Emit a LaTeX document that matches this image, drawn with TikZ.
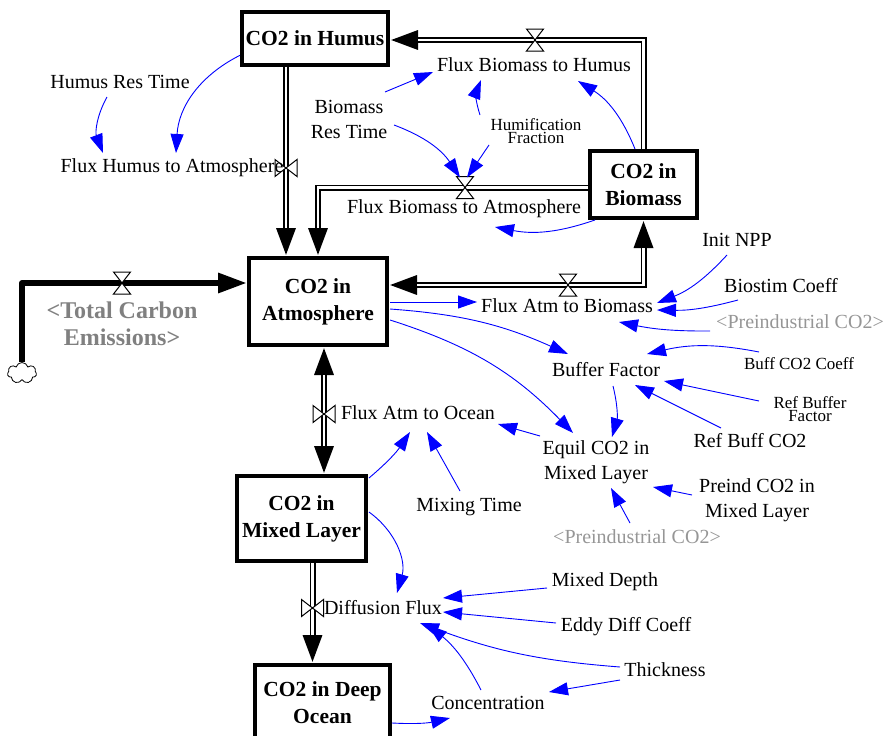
\documentclass[tikz,border=0pt]{standalone}
\usepackage{fontspec}
\setmainfont{Liberation Serif}
\usetikzlibrary{arrows.meta,shapes.symbols}
\definecolor{ghostA}{RGB}{128,128,128}
\definecolor{ghostB}{RGB}{150,150,150}
\definecolor{linkblue}{RGB}{0,0,255}
\begin{document}
\begin{tikzpicture}[x=1pt,y=1pt,
  aux/.style={inner sep=0pt, align=center, font=\fontsize{20}{25}\selectfont},
  sm/.style={inner sep=0pt, align=center, font=\fontsize{17}{13}\selectfont},
  ghost/.style={aux, text=ghostB},
  stock/.style={draw, line width=4pt, fill=white, inner sep=0pt, align=center, font=\bfseries\fontsize{21.5}{27}\selectfont},
  link/.style={linkblue, line width=0.9pt, -{Triangle[length=19pt,width=13pt]}},
  pipeA/.style={draw=black, line width=6pt, line join=miter, -{Triangle[length=28pt,width=18pt]}, postaction={draw=white, line width=2.6pt, -, shorten >=28pt}},
  pipeB/.style={draw=black, line width=6pt, line join=miter, {Triangle[length=28pt,width=18pt]}-{Triangle[length=28pt,width=18pt]}, postaction={draw=white, line width=2.6pt, -, shorten >=28pt, shorten <=28pt}},
  emis/.style={draw=black, line width=6pt, line join=round, -{Triangle[length=29pt,width=19pt]}},
  hv/.pic={\filldraw[fill=white,draw=black,line width=1pt] (-8.5,11) -- (8.5,11) -- (0,0) -- cycle (-8.5,-11) -- (8.5,-11) -- (0,0) -- cycle;},
  vv/.pic={\filldraw[fill=white,draw=black,line width=1pt] (-11,8.5) -- (-11,-8.5) -- (0,0) -- cycle (11,8.5) -- (11,-8.5) -- (0,0) -- cycle;}
]
\useasboundingbox (0,0) rectangle (887,-736);
\clip (0,0) rectangle (887,-736);

% stocks
\node[stock, minimum width=146pt, minimum height=53.5pt] (hum) at (315,-38.3) {CO2 in Humus};
\node[stock, minimum width=107pt, minimum height=67pt] (bio) at (643.5,-184.5) {CO2 in\\Biomass};
\node[stock, minimum width=138pt, minimum height=87pt] (atm) at (318,-301.5) {CO2 in\\Atmosphere};
\node[stock, minimum width=129pt, minimum height=85pt] (mix) at (301.5,-518.5) {CO2 in\\Mixed Layer};
\node[stock, minimum width=135pt, minimum height=76pt] (deep) at (322.5,-703) {CO2 in Deep\\Ocean};

% cloud source
\node[cloud, draw, fill=white, line width=0.8pt, cloud puffs=7, aspect=1.4, minimum width=29pt, minimum height=21pt, inner sep=0pt] (cl) at (22,-373) {};

% valve positions
\coordinate (vha) at (286,-168);
\coordinate (vba) at (465,-187.5);
\coordinate (vbh) at (535,-40);
\coordinate (vab) at (568,-285);
\coordinate (vem) at (122,-283);
\coordinate (vao) at (324,-414);
\coordinate (vdf) at (312.5,-608);

% pipes
\draw[pipeA] (vha |- hum.south) -- (vha |- atm.north);
\draw[pipeA] (bio.west |- vba) -| (atm.north);
\draw[pipeA] (bio.north) |- (hum.east |- vbh);
\draw[pipeB] (atm.east |- vab) -| (bio.south);
\draw[pipeB] (vao |- atm.south) -- (vao |- mix.north);
\draw[pipeA] (vdf |- mix.south) -- (vdf |- deep.north);
\draw[emis] (cl.north) |- (atm.west |- vem);

% valves
\pic at (vha) {vv};
\pic at (vba) {hv};
\pic at (vbh) {hv};
\pic at (vab) {hv};
\pic at (vem) {hv};
\pic at (vao) {vv};
\pic at (vdf) {vv};

% auxiliaries
\node[aux] (hrt) at (120,-82) {Humus Res Time};
\node[aux] (fha) at (172,-168) {Flux Humus to Atmosphere};
\node[aux] (brt) at (349,-119) {Biomass\\Res Time};
\node[aux] (fbh) at (534,-65) {Flux Biomass to Humus};
\node[sm] (hf) at (536,-131) {Humification\\Fraction};
\node[aux] (fba) at (464,-209) {Flux Biomass to Atmosphere};
\node[aux] (npp) at (737,-240) {Init NPP};
\node[aux] (bsc) at (781,-286) {Biostim Coeff};
\node[ghost] (pre1) at (800,-322) {<Preindustrial CO2>};
\node[aux] (fab) at (567,-306) {Flux Atm to Biomass};
\node[aux] (bf) at (606,-370) {Buffer Factor};
\node[sm] (bcc) at (799,-364) {Buff CO2 Coeff};
\node[sm] (rbf) at (810,-409) {Ref Buffer\\Factor};
\node[aux] (rbc) at (750,-441) {Ref Buff CO2};
\node[aux] (eq) at (596,-462) {Equil CO2 in\\Mixed Layer};
\node[aux] (fao) at (418,-413) {Flux Atm to Ocean};
\node[aux] (mixt) at (469,-507) {Mixing Time};
\node[aux] (pmx) at (757,-500) {Preind CO2 in\\Mixed Layer};
\node[ghost] (pre2) at (637,-537) {<Preindustrial CO2>};
\node[aux] (mxd) at (605,-582) {Mixed Depth};
\node[aux] (edc) at (626,-627) {Eddy Diff Coeff};
\node[aux] (thk) at (665,-670) {Thickness};
\node[aux] (conc) at (488,-703) {Concentration};
\node[aux] (df) at (383,-608) {Diffusion Flux};
\node[inner sep=0pt, align=center, font=\bfseries\fontsize{24}{27}\selectfont, text=ghostA] (tce) at (122,-323.5) {<Total Carbon\\Emissions>};

% links
\draw[link] ([shift={(-13,-15)}]hrt.center) to[bend right=25] ([shift={(-69,15)}]fha.center);
\draw[link] ([shift={(-75,-17)}]hum.center) to[bend right=30] ([shift={(4,15)}]fha.center);
\draw[link] ([shift={(36,27)}]brt.center) -- ([shift={(-101,-7)}]fbh.center);
\draw[link] ([shift={(45,-6)}]brt.center) to[bend left=18] ([shift={(-5,10)}]vba);
\draw[link] ([shift={(-56,16)}]hf.center) to[bend left=20] ([shift={(-53,-15)}]fbh.center);
\draw[link] ([shift={(-47,-14)}]hf.center) -- ([shift={(2,10)}]vba);
\draw[link] ([shift={(-8.5,35.5)}]bio.center) to[bend right=18] ([shift={(44,-16)}]fbh.center);
\draw[link] ([shift={(-48.5,-35.5)}]bio.center) to[bend left=15] ([shift={(31,-18)}]fba.center);
\draw[link] ([shift={(72,-0.5)}]atm.center) -- ([shift={(-90,4)}]fab.center);
\draw[link] ([shift={(72,-7.5)}]atm.center) to[bend left=10] ([shift={(-38,16)}]bf.center);
\draw[link] ([shift={(72,-18.5)}]atm.center) to[bend left=14] ([shift={(-23,29)}]eq.center);
\draw[link] ([shift={(-10,-15)}]npp.center) to[bend left=13] ([shift={(90,3)}]fab.center);
\draw[link] ([shift={(-43,-14)}]bsc.center) to[bend left=8] ([shift={(90,-4)}]fab.center);
\draw[link] ([shift={(-90,-9)}]pre1.center) to[bend left=6] ([shift={(52,-16)}]fab.center);
\draw[link] ([shift={(-40,12)}]bcc.center) to[bend right=12] ([shift={(41,16)}]bf.center);
\draw[link] ([shift={(-51,8)}]rbf.center) -- ([shift={(58,-11)}]bf.center);
\draw[link] ([shift={(-29,13)}]rbc.center) -- ([shift={(29,-15)}]bf.center);
\draw[link] ([shift={(7,-16)}]bf.center) to[bend left=15] ([shift={(16,25)}]eq.center);
\draw[link] ([shift={(-56,26)}]eq.center) -- ([shift={(80,-11)}]fao.center);
\draw[link] ([shift={(-65,5)}]pmx.center) -- ([shift={(57,-25)}]eq.center);
\draw[link] ([shift={(-7,14)}]pre2.center) -- ([shift={(15,-26)}]eq.center);
\draw[link] ([shift={(-9,16)}]mixt.center) -- ([shift={(9,-19)}]fao.center);
\draw[link] ([shift={(67.5,40.5)}]mix.center) to[bend right=8] ([shift={(-8,-19)}]fao.center);
\draw[link] ([shift={(67.5,6.5)}]mix.center) to[bend left=35] ([shift={(14,15)}]df.center);
\draw[link] ([shift={(-58,-6)}]mxd.center) -- ([shift={(60,10)}]df.center);
\draw[link] ([shift={(-70,4)}]edc.center) -- ([shift={(60,-4)}]df.center);
\draw[link] ([shift={(-45,3)}]thk.center) to[bend left=8] ([shift={(37,-15)}]df.center);
\draw[link] ([shift={(-45,-10)}]thk.center) -- ([shift={(61,11)}]conc.center);
\draw[link] ([shift={(-7,13)}]conc.center) to[bend right=12] ([shift={(45,-17)}]df.center);
\draw[link] ([shift={(69.5,-20)}]deep.center) to[bend right=8] ([shift={(-38,-15)}]conc.center);
\end{tikzpicture}
\end{document}
